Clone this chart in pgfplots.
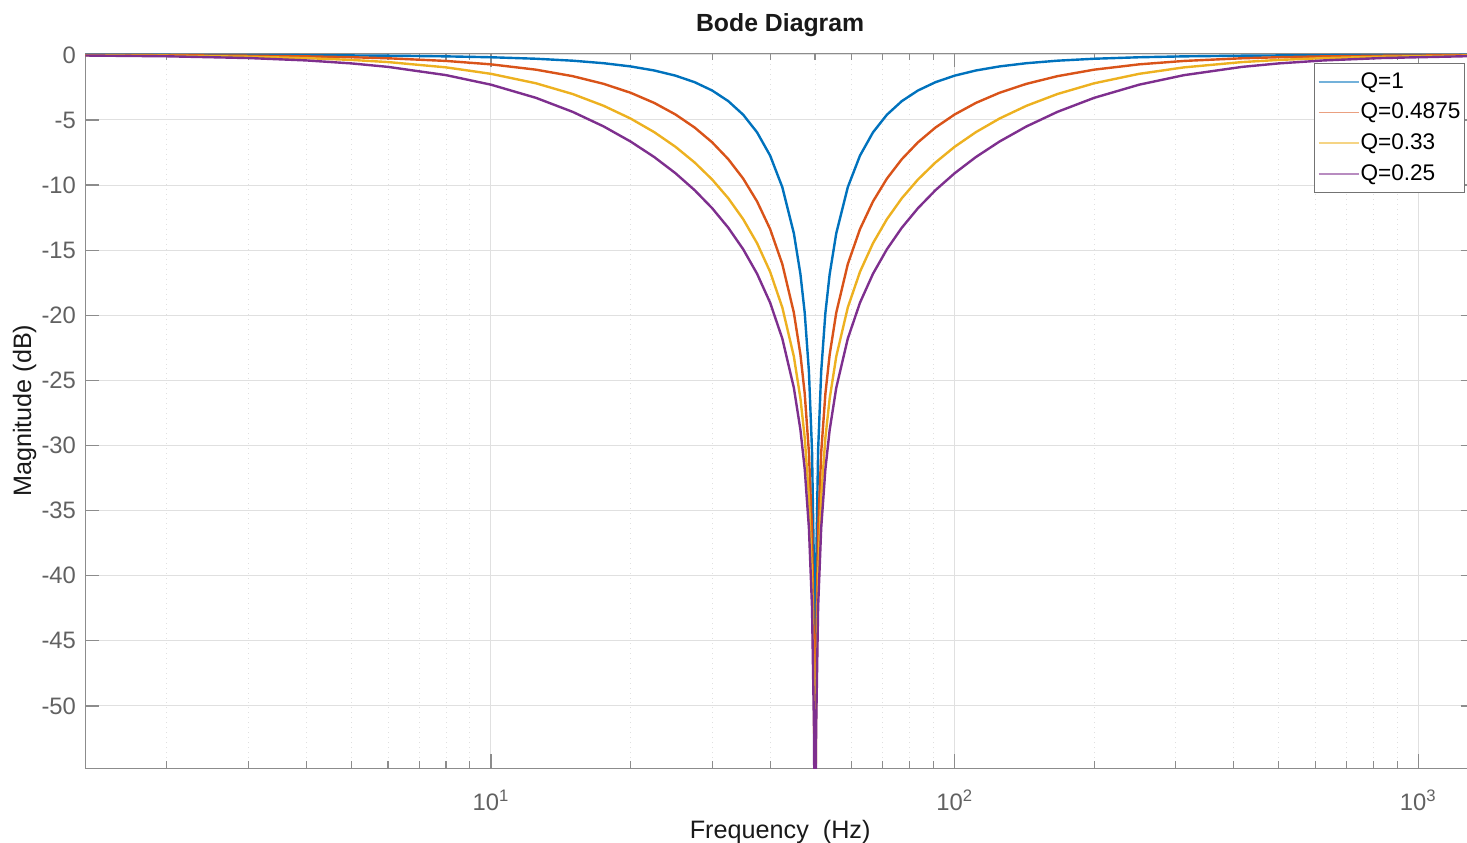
\documentclass[border=0pt]{standalone}
\usepackage{fontspec}
\setmainfont{Liberation Sans}
\usepackage{pgfplots}
\usepackage{pgfplotstable}
\pgfplotsset{compat=1.18}
\definecolor{mblue}{HTML}{0072BD}
\definecolor{morange}{HTML}{D95319}
\definecolor{myellow}{HTML}{EDB120}
\definecolor{mpurple}{HTML}{7E2F8E}

\pgfplotstableread{
f        q1       q2       q3       q4
1.3      -0.0029  -0.0124  -0.0269  -0.0468
2        -0.0070  -0.0292  -0.0635  -0.1101
3        -0.0157  -0.0658  -0.1423  -0.2449
4        -0.0281  -0.1169  -0.2512  -0.4287
5        -0.0441  -0.1826  -0.3890  -0.6567
6        -0.0639  -0.2628  -0.5542  -0.9243
8        -0.1155  -0.4667  -0.9607  -1.5576
10       -0.1845  -0.7285  -1.4568  -2.2903
12.5     -0.2983  -1.1368  -2.1827  -3.2999
15       -0.4481  -1.6355  -3.0059  -4.3757
17.5     -0.6412  -2.2256  -3.9109  -5.4966
20       -0.8876  -2.9095  -4.8886  -6.6540
22.5     -1.2004  -3.6914  -5.9369  -7.8492
25       -1.5970  -4.5790  -7.0598  -9.0907
27.5     -2.0999  -5.5826  -8.2669  -10.394
30       -2.7390  -6.7193  -9.5763  -11.779
32.5     -3.5545  -8.0143  -11.015  -13.278
35       -4.5998  -9.5069  -12.624  -14.934
37.5     -5.9536  -11.260  -14.469  -16.814
40       -7.7365  -13.380  -16.660  -19.032
42.5     -10.163  -16.072  -19.403  -21.793
45       -13.699  -19.796  -23.161  -25.563
46.5     -16.847  -23.019  -26.396  -28.803
47.5     -19.820  -26.026  -29.409  -31.818
48.5     -24.320  -30.548  -33.935  -36.346
49.25    -30.396  -36.633  -40.022  -42.433
49.75    -39.979  -46.219  -49.608  -52.019
49.95    -53.975  -60.216  -63.600  -66.016
50       -100     -100     -100     -100
50.05    -53.975  -60.216  -63.600  -66.016
50.2513  -39.979  -46.219  -49.608  -52.019
50.7614  -30.396  -36.633  -40.022  -42.433
51.5464  -24.320  -30.548  -33.935  -36.346
52.6316  -19.820  -26.026  -29.409  -31.818
53.7634  -16.847  -23.019  -26.396  -28.803
55.5556  -13.699  -19.796  -23.161  -25.563
58.8235  -10.163  -16.072  -19.403  -21.793
62.5     -7.7365  -13.380  -16.660  -19.032
66.6667  -5.9536  -11.260  -14.469  -16.814
71.4286  -4.5998  -9.5069  -12.624  -14.934
76.9231  -3.5545  -8.0143  -11.015  -13.278
83.3333  -2.7390  -6.7193  -9.5763  -11.779
90.9091  -2.0999  -5.5826  -8.2669  -10.394
100      -1.5970  -4.5790  -7.0598  -9.0907
111.111  -1.2004  -3.6914  -5.9369  -7.8492
125      -0.8876  -2.9095  -4.8886  -6.6540
142.857  -0.6412  -2.2256  -3.9109  -5.4966
166.667  -0.4481  -1.6355  -3.0059  -4.3757
200      -0.2983  -1.1368  -2.1827  -3.2999
250      -0.1845  -0.7285  -1.4568  -2.2903
312.5    -0.1155  -0.4667  -0.9607  -1.5576
416.667  -0.0639  -0.2628  -0.5542  -0.9243
500      -0.0441  -0.1826  -0.3890  -0.6567
625      -0.0281  -0.1169  -0.2512  -0.4287
833.333  -0.0157  -0.0658  -0.1423  -0.2449
1250     -0.0070  -0.0292  -0.0635  -0.1101
1923.08  -0.0029  -0.0124  -0.0269  -0.0468
}\notchdata

\begin{document}
\begin{tikzpicture}
\useasboundingbox (-42.65bp,-37.35bp) rectangle (690.85bp,384.15bp);
\begin{axis}[
  at={(0,0)}, anchor=south west,
  width=694.85bp, height=357.5bp, scale only axis,
  xmode=log, log basis x=10,
  xmin=1.334, xmax=1325, ymin=-54.79, ymax=0.12,
  xtick={10,100,1000},
  xticklabels={10\textsuperscript{1},10\textsuperscript{2},10\textsuperscript{3}},
  minor xtick={2,3,4,5,6,7,8,9,20,30,40,50,60,70,80,90,200,300,400,500,600,700,800,900},
  ytick={-50,-45,-40,-35,-30,-25,-20,-15,-10,-5,0},
  yticklabels={-50,-45,-40,-35,-30,-25,-20,-15,-10,-5,0},
  xmajorgrids, xminorgrids, ymajorgrids,
  major grid style={black!12, line width=0.5bp},
  minor grid style={black!12, line width=0.5bp, dotted},
  axis line style={black!45, line width=0.6bp},
  every tick/.style={black!45, line width=0.6bp},
  major tick length=7bp, minor tick length=3.5bp,
  tick align=inside, tick pos=both,
  tick label style={font=\fontsize{11.9bp}{14bp}\selectfont, text=black!62},
  xticklabel style={anchor=base, yshift=-21bp},
  yticklabel style={anchor=east, inner sep=0pt, xshift=-4.5bp},
  title={\textbf{Bode Diagram}},
  title style={at={(axis description cs:0.5,1)}, anchor=base, yshift=4.7bp,
    font=\fontsize{12.4bp}{14bp}\selectfont, text=black!90},
  xlabel={Frequency\ \ (Hz)},
  xlabel style={at={(axis description cs:0.5,0)}, anchor=base, yshift=-35bp,
    font=\fontsize{12.6bp}{14bp}\selectfont, text=black!90},
  ylabel={Magnitude (dB)},
  ylabel style={at={(axis description cs:-0.0389,0.5)}, anchor=base,
    font=\fontsize{12.6bp}{14bp}\selectfont, text=black!90},
  legend style={at={(axis description cs:1,1)}, anchor=north east,
    xshift=-5bp, yshift=-4.85bp, draw=black!55, fill=white,
    font=\fontsize{11.3bp}{13bp}\selectfont, row sep=2bp,
    inner xsep=1.5bp, inner ysep=2.5bp, nodes={inner xsep=0.6bp}},
  legend cell align=left,
  legend image code/.code={\draw[#1, line width=0.8bp, opacity=0.55] (0bp,0bp) -- (20bp,0bp);},
]
\addplot[mblue, line width=1.2bp] table[x=f, y=q1] {\notchdata};
\addplot[morange, line width=1.2bp] table[x=f, y=q2] {\notchdata};
\addplot[myellow, line width=1.2bp] table[x=f, y=q3] {\notchdata};
\addplot[mpurple, line width=1.2bp] table[x=f, y=q4] {\notchdata};
\legend{Q=1, Q=0.4875, Q=0.33, Q=0.25}
\end{axis}
\end{tikzpicture}
\end{document}
